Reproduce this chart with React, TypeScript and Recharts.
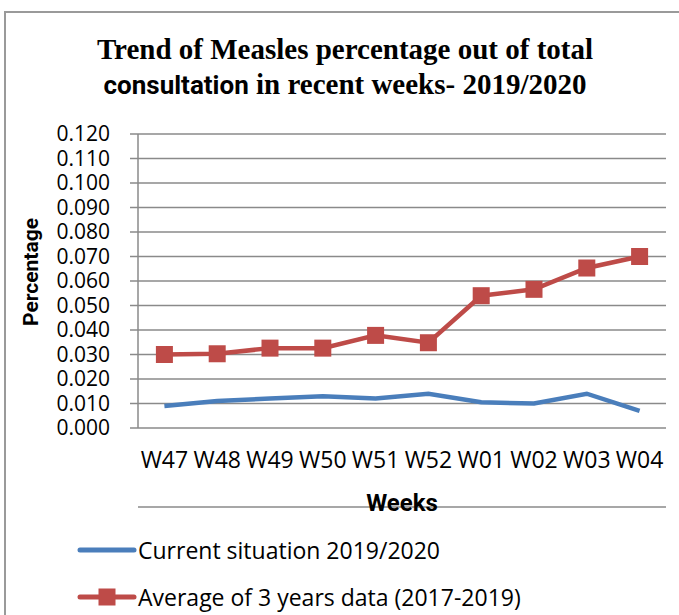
import { LineChart, Line, XAxis, YAxis, CartesianGrid, Legend } from 'recharts'

const weeks = ['W47', 'W48', 'W49', 'W50', 'W51', 'W52', 'W01', 'W02', 'W03', 'W04']
const current = [0.009, 0.011, 0.012, 0.013, 0.012, 0.014, 0.0105, 0.01, 0.014, 0.007]
const average = [0.03, 0.0303, 0.0326, 0.0326, 0.0378, 0.0348, 0.054, 0.0566, 0.0653, 0.07]
const yTicks = [0, 0.01, 0.02, 0.03, 0.04, 0.05, 0.06, 0.07, 0.08, 0.09, 0.1, 0.11, 0.12]
const seriesOrder = ['current', 'average']

const BLUE = '#4A7EBB'
const RED = '#BE4B48'
const GRID = '#8a8a8a'

const data = weeks.map((w, i) => ({
    week: w,
    pos: i + 0.5,
    current: current[i],
    average: average[i],
}))

// tick marks sit between the categories, like Excel does
const boundaries = [...weeks.map((_, i) => i), weeks.length]

const SquareDot = ({ cx, cy }: any) => {
    if (cx == null || cy == null) return null
    return <rect x={cx - 8.5} y={cy - 8.5} width={17} height={17} fill={RED} />
}

const WeeksLabel = ({ viewBox }: any) => (
    <text
        x={viewBox.x + viewBox.width / 2}
        y={viewBox.y + 75}
        textAnchor="middle"
        dominantBaseline="central"
        style={{ fontFamily: 'Roboto', fontWeight: 700, fontSize: 24, fill: '#000' }}
    >
        Weeks
    </text>
)

const PercentLabel = ({ viewBox }: any) => {
    const cx = 31
    const cy = viewBox.y + viewBox.height / 2 - 9
    return (
        <text
            x={cx}
            y={cy}
            transform={`rotate(-90 ${cx} ${cy})`}
            textAnchor="middle"
            dominantBaseline="central"
            style={{ fontFamily: 'Roboto', fontWeight: 700, fontSize: 21, fill: '#000' }}
        >
            Percentage
        </text>
    )
}

const renderLegend = ({ payload }: any) => (
    <div style={{ fontFamily: 'Open Sans', fontSize: 23, color: '#000' }}>
        {(payload || []).map((entry: any) => (
            <div key={entry.value} style={{ display: 'flex', alignItems: 'center', height: 47 }}>
                <svg width={60} height={20} style={{ marginRight: 1 }}>
                    <line x1={3} y1={10} x2={57} y2={10} stroke={entry.color} strokeWidth={5} strokeLinecap="round" />
                    {entry.dataKey === 'average' && <rect x={21.5} y={1.5} width={17} height={17} fill={RED} />}
                </svg>
                <span>{entry.value}</span>
            </div>
        ))}
    </div>
)

export default function App() {
    return (
        <div style={{ position: 'absolute', left: 0, top: 0, width: 679, height: 615, overflow: 'hidden', background: '#fff' }}>
            <div
                style={{
                    position: 'absolute',
                    left: 4,
                    top: 11,
                    width: 800,
                    height: 800,
                    border: '2px solid #9a9a9a',
                    boxSizing: 'border-box',
                }}
            />
            <div
                style={{
                    position: 'absolute',
                    left: 0,
                    top: 32,
                    width: 690,
                    textAlign: 'center',
                    fontFamily: '"Liberation Serif"',
                    fontWeight: 700,
                    fontSize: 29,
                    lineHeight: '35px',
                    color: '#000',
                }}
            >
                Trend of Measles percentage out of total
                <br />
                <span style={{ fontFamily: 'Roboto', fontSize: 26 }}>consultation</span> in recent weeks- 2019/2020
            </div>
            <div style={{ position: 'absolute', left: 0, top: 0 }}>
                <LineChart width={679} height={615} data={data} margin={{ top: 134, right: 13, bottom: 100, left: 0 }}>
                    <CartesianGrid xAxisId="ticks" yAxisId="y" vertical={false} stroke={GRID} strokeWidth={1.5} />
                    <XAxis
                        xAxisId="ticks"
                        type="number"
                        dataKey="pos"
                        domain={[0, weeks.length]}
                        ticks={boundaries}
                        interval={0}
                        tick={false}
                        tickSize={8}
                        height={8}
                        stroke={GRID}
                        strokeWidth={1.5}
                    />
                    <XAxis
                        xAxisId="cat"
                        dataKey="week"
                        scale="band"
                        interval={0}
                        axisLine={false}
                        tickLine={false}
                        tickSize={0}
                        tickMargin={24}
                        height={79}
                        tick={{ fill: '#000', fontSize: 23, fontFamily: 'Open Sans' }}
                        label={<WeeksLabel />}
                    />
                    <YAxis
                        yAxisId="y"
                        width={138}
                        domain={[0, 0.12]}
                        ticks={yTicks}
                        interval={0}
                        tickFormatter={(v: number) => v.toFixed(3)}
                        tickSize={8}
                        tickMargin={20}
                        stroke={GRID}
                        strokeWidth={1.5}
                        tick={{ fill: '#000', fontSize: 21, fontFamily: 'Open Sans' }}
                        label={<PercentLabel />}
                    />
                    <Legend
                        layout="horizontal"
                        verticalAlign="middle"
                        align="center"
                        itemSorter={(item: any) => seriesOrder.indexOf(item.dataKey)}
                        wrapperStyle={{ position: 'absolute', top: 526, left: 77, width: 580, height: 94 }}
                        content={renderLegend}
                    />
                    <Line
                        xAxisId="cat"
                        yAxisId="y"
                        type="linear"
                        dataKey="current"
                        name="Current situation 2019/2020"
                        stroke={BLUE}
                        strokeWidth={4.5}
                        dot={false}
                        activeDot={false}
                        isAnimationActive={false}
                    />
                    <Line
                        xAxisId="cat"
                        yAxisId="y"
                        type="linear"
                        dataKey="average"
                        name="Average of 3 years data (2017-2019)"
                        stroke={RED}
                        strokeWidth={4.5}
                        dot={<SquareDot />}
                        activeDot={false}
                        isAnimationActive={false}
                    />
                </LineChart>
            </div>
        </div>
    )
}
